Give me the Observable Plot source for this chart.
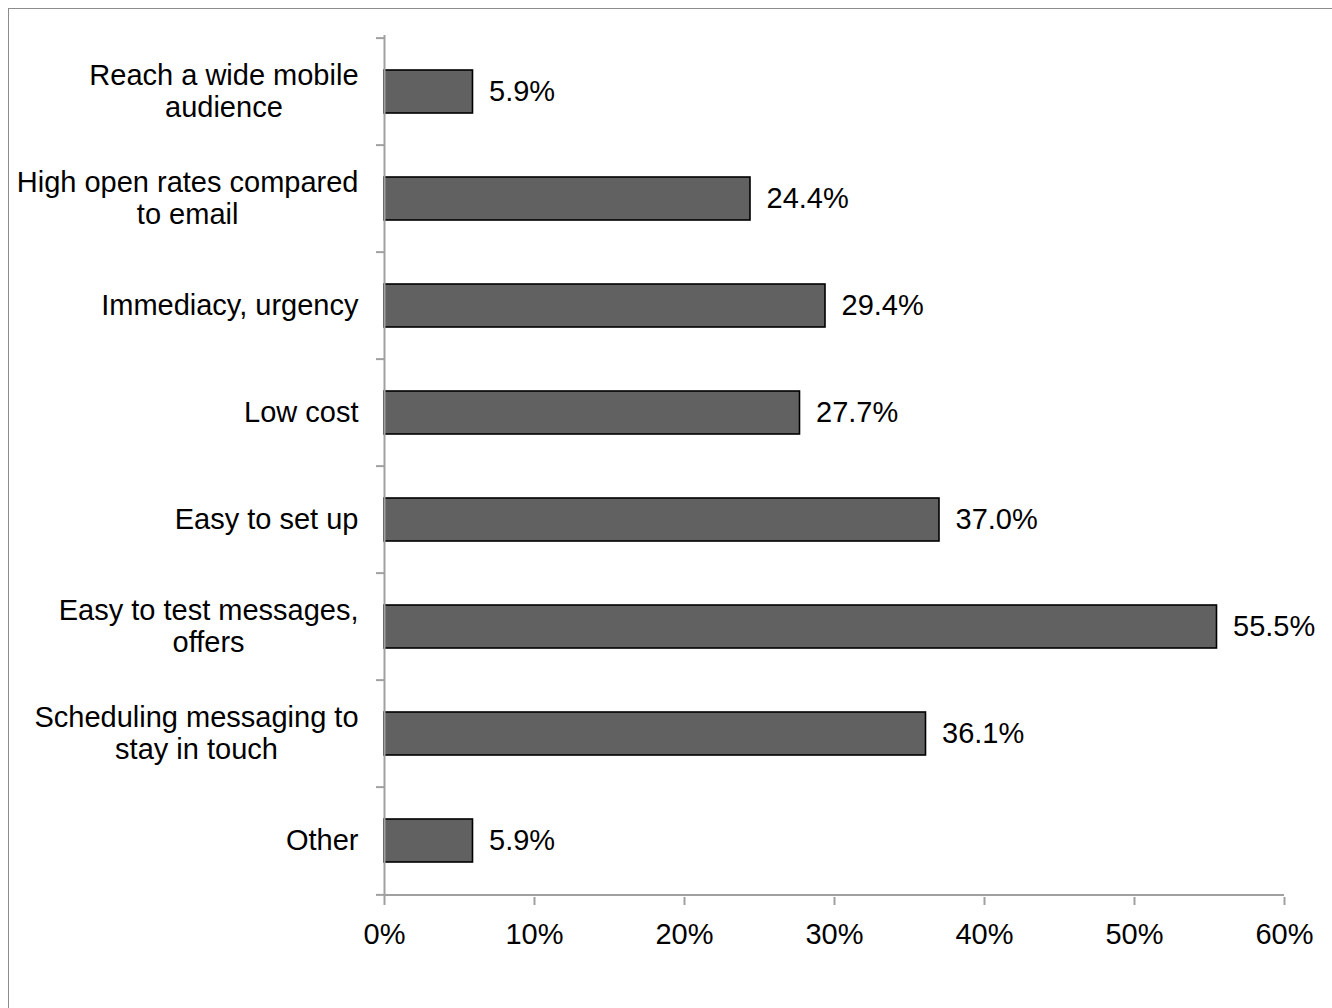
<!DOCTYPE html>
<html><head><meta charset="utf-8">
<script src="https://cdn.jsdelivr.net/npm/d3@7"></script>
<script src="https://cdn.jsdelivr.net/npm/@observablehq/plot@0.6"></script>
<style>
html,body{margin:0;padding:0;background:#fff;overflow:hidden;width:1332px;height:1008px}
#frame{position:absolute;left:8px;top:8px;width:1400px;height:1100px;border:1px solid #8c8c8c;box-sizing:border-box}
#chart{position:absolute;left:0;top:0}
</style></head><body><div id="frame"></div><div id="chart"></div>
<script>
const categories = [
  "Reach a wide mobile\naudience",
  "High open rates compared\nto email",
  "Immediacy, urgency",
  "Low cost",
  "Easy to set up",
  "Easy to test messages,\noffers",
  "Scheduling messaging to\nstay in touch",
  "Other"
];
const values = [5.9, 24.4, 29.4, 27.7, 37.0, 55.5, 36.1, 5.9];
const xTicks = [0, 10, 20, 30, 40, 50, 60];

const data = categories.map((c, i) => ({category: c, value: values[i]}));

const W = 1332, H = 1008, mt = 35, mb = 111, ml = 384, mr = 48;
const step = (H - mt - mb) / categories.length;
const gray = "#a0a0a0";
const ctx = document.createElement("canvas").getContext("2d");
ctx.font = "29px 'Liberation Sans'";

const labelMarks = categories.map(c => {
  const w = Math.max(...c.split("\n").map(s => ctx.measureText(s).width));
  return Plot.text([c], {y: d => d, text: d => d, frameAnchor: "left", textAnchor: "middle",
    dx: -(26 + w / 2), dy: -1, lineHeight: 1.09, fill: "#000"});
});

const chart = Plot.plot({
  width: W, height: H,
  marginTop: mt, marginBottom: mb, marginLeft: ml, marginRight: mr,
  style: {fontFamily: "'Liberation Sans', Arial, sans-serif", fontSize: "29px", background: "transparent", color: "#000"},
  x: {domain: [0, 60], axis: null},
  y: {domain: categories, paddingInner: 0.6, paddingOuter: 0.3, axis: null},
  marks: [
    Plot.barX(data, {x: "value", y: "category", fill: "#616161", stroke: "#000", strokeWidth: 1.6}),
    Plot.ruleX([0], {stroke: gray, strokeWidth: 2}),
    Plot.ruleY([categories[categories.length - 1]], {x1: 0, x2: 60, dy: step / 2, stroke: gray, strokeWidth: 2}),
    Plot.axisY({ticks: categories, tickSize: 8, tickFormat: () => "", dy: -step / 2, stroke: gray, strokeWidth: 2, label: null}),
    Plot.axisY({ticks: [categories[categories.length - 1]], tickSize: 8, tickFormat: () => "", dy: step / 2, stroke: gray, strokeWidth: 2, label: null}),
    Plot.axisX({ticks: xTicks, tickSize: 8, tickPadding: 18, tickFormat: d => d + "%", stroke: gray, fill: "#000", strokeWidth: 2, label: null}),
    Plot.text(data, {x: "value", y: "category", text: d => d.value.toFixed(1) + "%", dx: 16, textAnchor: "start", fill: "#000"}),
    ...labelMarks
  ]
});
document.getElementById("chart").appendChild(chart);
</script></body></html>
